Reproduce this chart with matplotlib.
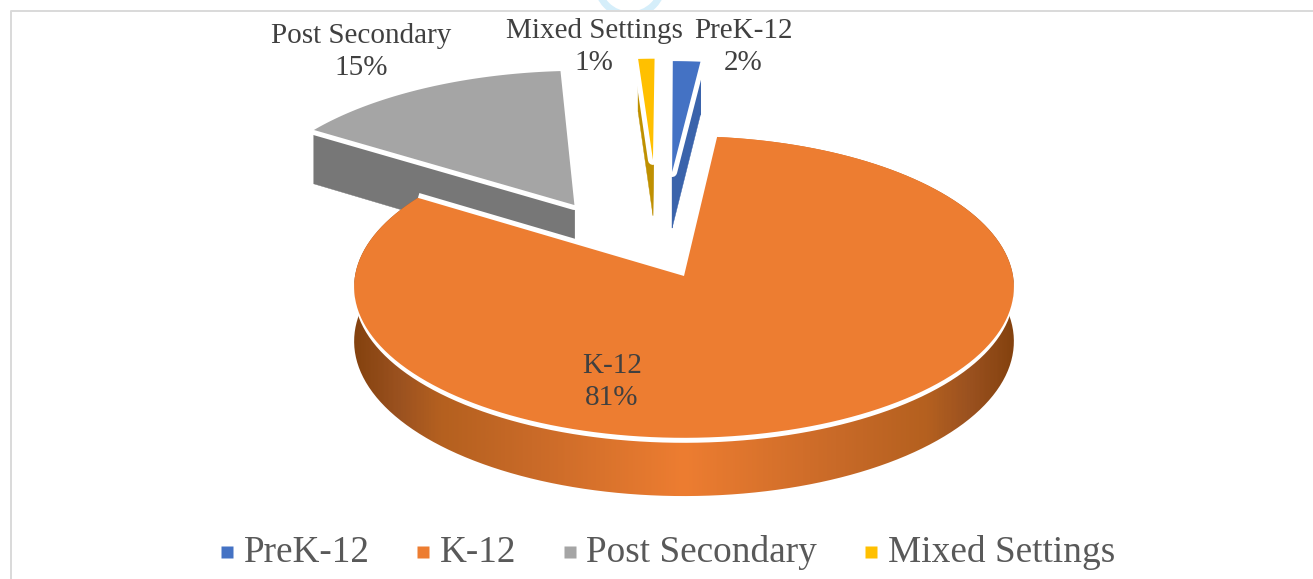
import numpy as np
import matplotlib
matplotlib.use("Agg")
import matplotlib.pyplot as plt
from matplotlib.colors import LinearSegmentedColormap
from matplotlib.lines import Line2D
from matplotlib.patches import Polygon, Circle, Rectangle

categories = ["PreK-12", "K-12", "Post Secondary", "Mixed Settings"]
percent = [1.7, 81.4, 14.6, 1.1]
top_colors = ["#4472C4", "#ED7D31", "#A5A5A5", "#FFC000"]
side_colors = ["#3A63AB", "#ED7D31", "#777777", "#BF9000"]

# slice shift on the pie plane (pie radii), radius and rim depth of each slice
shift_x = [-0.038, 0.0, -0.345, -0.1]
shift_y = [0.73, 0.0, 0.49, 0.82]
slice_r = [0.87, 1.0, 1.03, 0.80]
depth = [59, 54, 58, 59]

# pie camera, in pixels
CX, CY = 684, 276
RX, RY = 329, 150
DIST = 13.7
GAP_PX = 5

plt.rcParams["font.family"] = ["Liberation Serif", "DejaVu Serif"]

fig = plt.figure(figsize=(13.13, 5.79), dpi=100)
ax = fig.add_axes([0, 0, 1, 1])
ax.set_xlim(0, 1313)
ax.set_ylim(579, 0)
ax.axis("off")


def project(x, y):
    s = DIST / (DIST + y)
    return CX + RX * x * s, CY - RY * y * s, s


def slice_outline(start, end, i):
    t = np.radians(np.linspace(start, end, 160))
    x = shift_x[i] + slice_r[i] * np.sin(t)
    y = shift_y[i] + slice_r[i] * np.cos(t)
    x = np.r_[shift_x[i], x]
    y = np.r_[shift_y[i], y]
    return project(x, y)


def draw_slice(start, end, i, z):
    px, py, s = slice_outline(start, end, i)
    low = py + depth[i] * s
    pts = np.c_[px, py]
    if categories[i] == "K-12":
        # only the rim shows, shaded darker towards both ends
        rim = np.r_[np.c_[px[1:], py[1:]], np.c_[px[1:], low[1:]][::-1]]
        clip = Polygon(rim, closed=True, transform=ax.transData)
        cmap = LinearSegmentedColormap.from_list(
            "rim", [(0, "#84420F"), (0.07, "#9C5220"), (0.13, "#B4601F"), (0.27, "#C96A28"),
                    (0.5, "#ED7D31"), (0.73, "#C96A28"), (0.87, "#B4601F"), (0.93, "#9C5220"),
                    (1, "#84420F")])
        im = ax.imshow(np.linspace(0, 1, 400).reshape(1, -1), cmap=cmap, aspect="auto",
                       extent=(px.min() - 1, px.max() + 1, low.max() + 1, py.min()), zorder=z)
        im.set_clip_path(clip)
        # the gap under the arc thins out to nothing at the sides of the pie
        ax.add_patch(Polygon(pts + [0, GAP_PX], closed=True, facecolor="white", edgecolor="none",
                             zorder=z + 0.1))
        ax.plot([px[-1], px[0], px[1]], [py[-1], py[0], py[1]], color="white",
                lw=2 * GAP_PX * 0.72, solid_capstyle="butt", zorder=z + 0.1)
    else:
        for k in range(len(px)):
            n = (k + 1) % len(px)
            quad = [(px[k], py[k]), (px[n], py[n]), (px[n], low[n]), (px[k], low[k])]
            ax.add_patch(Polygon(quad, closed=True, facecolor=side_colors[i],
                                 edgecolor=side_colors[i], lw=0.3, zorder=z))
        ax.add_patch(Polygon(pts, closed=True, facecolor="white", edgecolor="white",
                             lw=2 * GAP_PX * 0.72, joinstyle="round", zorder=z + 0.1))
    ax.add_patch(Polygon(pts, closed=True, facecolor=top_colors[i], edgecolor="none",
                         zorder=z + 0.2))


# clockwise from twelve o'clock
edges = np.r_[0, np.cumsum(percent)] / np.sum(percent) * 360
for z, i in enumerate([2, 3, 0, 1]):
    draw_slice(edges[i], edges[i + 1], i, z + 2)
ax.set_xlim(0, 1313)
ax.set_ylim(579, 0)

# chart frame and the bit of page artwork above it
ring = Circle((630, -18), 33, fill=False, edgecolor="#D5EEFA", lw=5, zorder=0.5)
ax.add_patch(ring)
ring.set_clip_path(Rectangle((0, 0), 1313, 10, transform=ax.transData))
ax.plot([10.5, 10.5, 1313], [579, 11, 11], color="#D9D9D9", lw=1.4, zorder=1)

label_x = [743, 612, 361, 594]
label_y = [47.5, 382, 52, 47.5]
for i in range(4):
    ax.text(label_x[i], label_y[i], "{}\n{}%".format(categories[i], round(percent[i])),
            ha="center", va="center", fontsize=21, color="#404040", zorder=10,
            linespacing=1.3)

handles = [Line2D([], [], linestyle="none", marker="s", markersize=8.2, markerfacecolor=c,
                  markeredgecolor="none") for c in top_colors]
ax.legend(handles, categories, ncol=4, loc="center", bbox_to_anchor=(668, 552),
          bbox_transform=ax.transData, frameon=False, fontsize=26.8, labelcolor="#595959",
          handlelength=0.3, handleheight=0.05, handletextpad=0.3, columnspacing=1.29,
          borderpad=0, borderaxespad=0, numpoints=1)

fig.savefig("out.png", dpi=100)
